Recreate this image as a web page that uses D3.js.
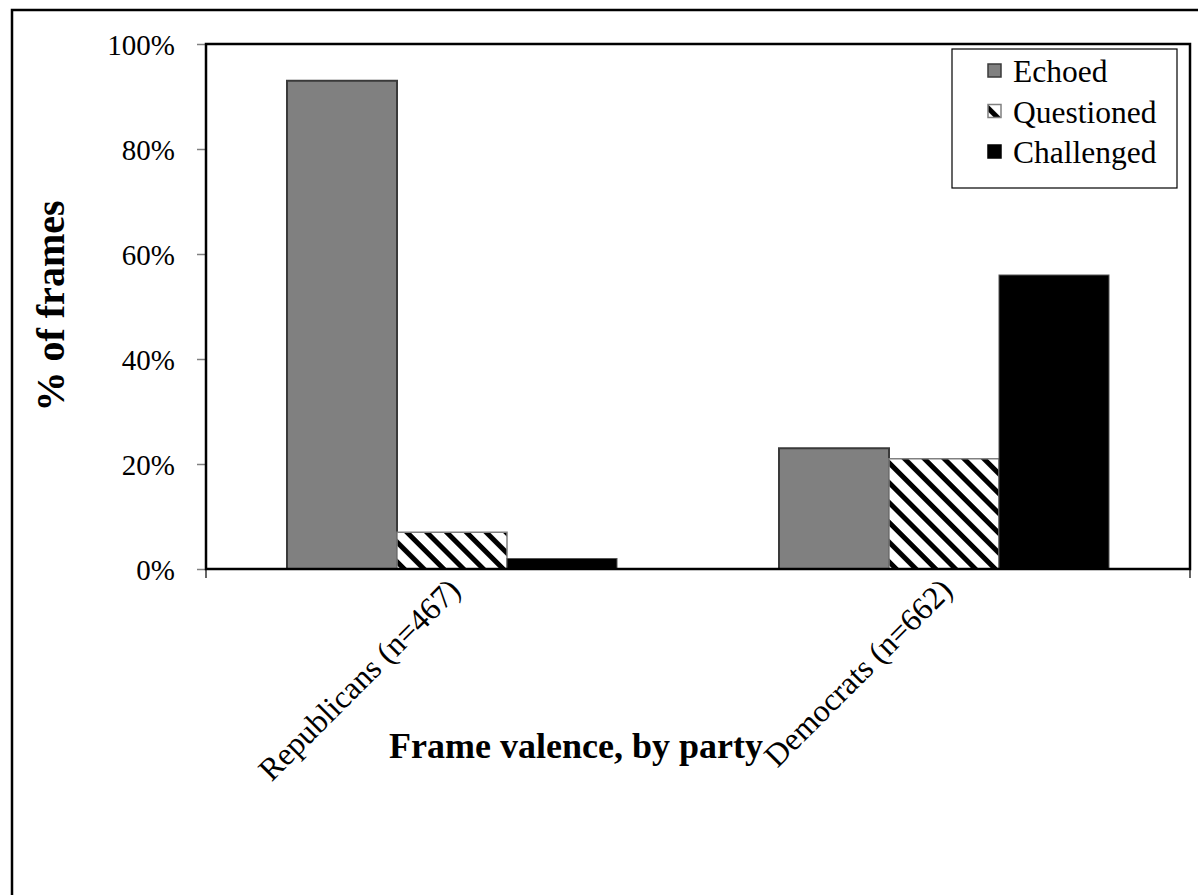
<!DOCTYPE html>
<html>
<head>
<meta charset="utf-8">
<script src="https://cdn.jsdelivr.net/npm/d3@7"></script>
<style>
  html, body { margin: 0; padding: 0; background: #fff; }
  svg { display: block; }
  text { font-family: "Liberation Serif", "Times New Roman", serif; fill: #000; }
</style>
</head>
<body>
<svg id="chart" width="1198" height="895"></svg>
<script>
const categories = ["Republicans (n=467)", "Democrats (n=662)"];
const seriesNames = ["Echoed", "Questioned", "Challenged"];
const echoed = [93, 23];
const questioned = [7, 21];
const challenged = [2, 56];
const yTicks = [0, 20, 40, 60, 80, 100];
const yTitle = "% of frames";
const xTitle = "Frame valence, by party";

const seriesValues = [echoed, questioned, challenged];

const svg = d3.select("#chart");
const plot = { left: 206, top: 44, right: 1190, bottom: 569 };

// outer frame (extends past right/bottom edge)
svg.append("rect").attr("x", 12).attr("y", 10).attr("width", 1300).attr("height", 1000)
  .attr("fill", "none").attr("stroke", "#000").attr("stroke-width", 2.5);

const defs = svg.append("defs");
const pat = defs.append("pattern").attr("id", "hatch")
  .attr("patternUnits", "userSpaceOnUse").attr("width", 14).attr("height", 14)
  .attr("patternTransform", "rotate(-45)");
pat.append("rect").attr("width", 14).attr("height", 14).attr("fill", "#fff");
pat.append("rect").attr("x", 0).attr("width", 5).attr("height", 14).attr("fill", "#000");

const x0 = d3.scaleBand().domain(categories).range([plot.left, plot.right]).paddingInner(0).paddingOuter(0);
const groupFrac = 330 / 492;
const x1 = d3.scaleBand().domain(seriesNames)
  .range([0, x0.bandwidth() * groupFrac]).padding(0);
const groupOffset = x0.bandwidth() * (1 - groupFrac) / 2;
const y = d3.scaleLinear().domain([0, 100]).range([plot.bottom, plot.top]);

const styles = {
  Echoed: { fill: "#808080", stroke: "#3a3a3a", sw: 2 },
  Questioned: { fill: "url(#hatch)", stroke: "#808080", sw: 1.5 },
  Challenged: { fill: "#000", stroke: "#555", sw: 1 }
};

// y axis ticks and labels
const yAxis = d3.axisLeft(y).tickValues(yTicks).tickFormat(d => d + "%").tickSize(9).tickPadding(22);
const gy = svg.append("g").attr("transform", `translate(${plot.left},0)`).call(yAxis);
gy.select(".domain").remove();
gy.selectAll(".tick line").attr("stroke", "#808080").attr("stroke-width", 1.5);
gy.selectAll(".tick text").style("font-size", "29px").attr("dy", "0.35em")
  .style("font-family", '"Liberation Serif", "Times New Roman", serif');

// bars
const groups = svg.append("g").selectAll("g").data(categories).join("g")
  .attr("transform", c => `translate(${x0(c) + groupOffset},0)`);
groups.selectAll("rect").data((c, i) => seriesNames.map((s, j) => ({ s, v: seriesValues[j][i] })))
  .join("rect")
  .attr("x", d => x1(d.s))
  .attr("y", d => y(d.v))
  .attr("width", x1.bandwidth())
  .attr("height", d => y(0) - y(d.v))
  .attr("fill", d => styles[d.s].fill)
  .attr("stroke", d => styles[d.s].stroke)
  .attr("stroke-width", d => styles[d.s].sw);

// plot border
svg.append("rect").attr("x", plot.left).attr("y", plot.top)
  .attr("width", plot.right - plot.left).attr("height", plot.bottom - plot.top)
  .attr("fill", "none").attr("stroke", "#000").attr("stroke-width", 2.5);

// x axis: boundary ticks and rotated category labels
[plot.left, plot.right].forEach(px => {
  svg.append("line").attr("x1", px).attr("x2", px).attr("y1", plot.bottom).attr("y2", plot.bottom + 9)
    .attr("stroke", "#000").attr("stroke-width", 1.2);
});
svg.append("g").selectAll("text").data(categories).join("text")
  .attr("transform", c => `translate(${x0(c) + x0.bandwidth() / 2 + 10},${plot.bottom + 23}) rotate(-45)`)
  .attr("text-anchor", "end")
  .style("font-size", "32px")
  .text(c => c);

// axis titles
svg.append("text").attr("transform", `translate(64,306) rotate(-90)`)
  .attr("text-anchor", "middle").style("font-size", "40px").style("font-weight", "bold").text(yTitle);
svg.append("text").attr("x", 576).attr("y", 758)
  .attr("text-anchor", "middle").style("font-size", "36px").style("font-weight", "bold").text(xTitle);

// legend
const lg = svg.append("g");
lg.append("rect").attr("x", 952).attr("y", 49).attr("width", 225).attr("height", 139)
  .attr("fill", "#fff").attr("stroke", "#000").attr("stroke-width", 1.2);
const rows = lg.selectAll("g").data(seriesNames).join("g")
  .attr("transform", (d, i) => `translate(988,${71 + i * 40.5})`);
rows.append("rect").attr("x", 0).attr("y", -7).attr("width", 13).attr("height", 13)
  .attr("fill", d => styles[d].fill)
  .attr("stroke", d => d === "Challenged" ? "#000" : styles[d].stroke)
  .attr("stroke-width", 1.5);
rows.append("text").attr("x", 25).attr("dy", "0.35em").style("font-size", "31.5px").text(d => d);
</script>
</body>
</html>
